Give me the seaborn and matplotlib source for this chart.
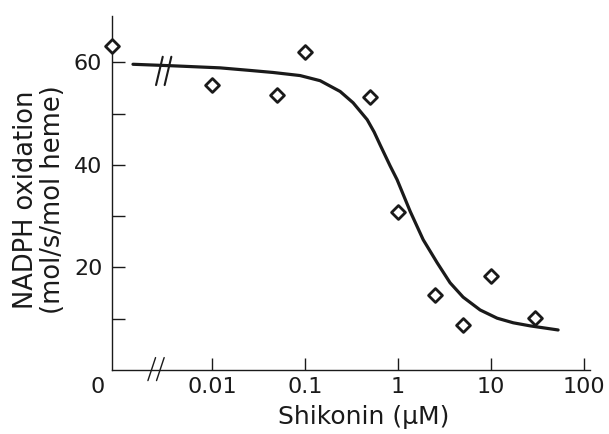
import numpy as np
import pandas as pd
import matplotlib
matplotlib.use("Agg")
import matplotlib.pyplot as plt
import seaborn as sns

# mesures (concentration en µM, 0 = témoin sans shikonine)
conc = [0, 0.01, 0.05, 0.1, 0.5, 1, 2.5, 5, 10, 30]
nadph = [63.2, 55.6, 53.7, 61.9, 53.3, 30.8, 14.6, 8.8, 18.3, 10.1]

# courbe ajustée
fit_conc = [0.00141, 0.00381, 0.0122, 0.0256, 0.0453, 0.0883, 0.145, 0.238,
            0.328, 0.465, 0.552, 0.640, 0.820, 0.975, 1.35, 1.86, 2.63, 3.62,
            5.0, 7.62, 11.6, 17.3, 26.3, 52.5]
fit_nadph = [59.6, 59.3, 58.9, 58.4, 58.0, 57.4, 56.4, 54.3,
             52.1, 48.8, 46.4, 43.9, 39.8, 37.1, 30.9, 25.4, 20.9, 17.0,
             14.2, 11.7, 10.1, 9.2, 8.6, 7.8]

xticks = [0.01, 0.1, 1, 10, 100]
xtick_labels = ["0.01", "0.1", "1", "10", "100"]

ZERO_X = 0.00084   # position du "0" sur l'axe log
X_MAX = 116
FS = 16
INK = "#1a1a1a"

sns.set_style("ticks")
plt.rcParams['font.family'] = ['DejaVu Sans']

fig = plt.figure(figsize=(6.09, 4.34), dpi=100)
ax = fig.add_axes([0.184, 0.1475, 0.785, 0.8155])

pts = pd.DataFrame({"conc": [c if c > 0 else ZERO_X for c in conc], "nadph": nadph})
fit = pd.DataFrame({"conc": fit_conc, "nadph": fit_nadph})

sns.lineplot(data=fit, x="conc", y="nadph", color=INK, linewidth=2.3, ax=ax)
sns.scatterplot(data=pts, x="conc", y="nadph", marker="D", s=50,
                facecolor="white", edgecolor=INK, linewidth=2, ax=ax,
                zorder=5, clip_on=False)

ax.set_xscale("log")
ax.set_xlim(ZERO_X, X_MAX)
ax.set_ylim(0, 69)
ax.set_xticks(xticks)
ax.set_xticklabels(xtick_labels)
ax.xaxis.set_minor_locator(matplotlib.ticker.NullLocator())
ax.set_yticks([10, 20, 30, 40, 50, 60])
ax.set_yticklabels(["", "20", "", "40", "", "60"])

ax.tick_params(direction="in", length=9, width=1, labelsize=FS, colors=INK)
ax.tick_params(axis="x", pad=5)
ax.tick_params(axis="y", pad=7)

for s in ["top", "right"]:
    ax.spines[s].set_visible(False)
for s in ["left", "bottom"]:
    ax.spines[s].set_linewidth(1)
    ax.spines[s].set_color(INK)

ax.set_xlabel("Shikonin (\u03bcM)", fontsize=18, color=INK)
ax.xaxis.set_label_coords(0.527, -0.1)
ax.set_ylabel("NADPH oxidation\n(mol/s/mol heme)", fontsize=18.5, color=INK,
              linespacing=1.05)
ax.yaxis.set_label_coords(-0.096, 0.48)

# "0" commun à l'origine
ax.text(-0.03, -0.019, "0", transform=ax.transAxes, ha="center", va="top",
        fontsize=FS, color=INK)

# coupures de l'axe x
for dx in (0.083, 0.101):
    ax.plot([dx - 0.008, dx + 0.008], [-0.03, 0.035], transform=ax.transAxes,
            color=INK, lw=1, clip_on=False)

# coupures de la courbe
for dx in (0.099, 0.117):
    ax.plot([dx - 0.007, dx + 0.007], [0.805, 0.885], transform=ax.transAxes,
            color=INK, lw=1.5, clip_on=False)

fig.savefig("out.png", dpi=100)
